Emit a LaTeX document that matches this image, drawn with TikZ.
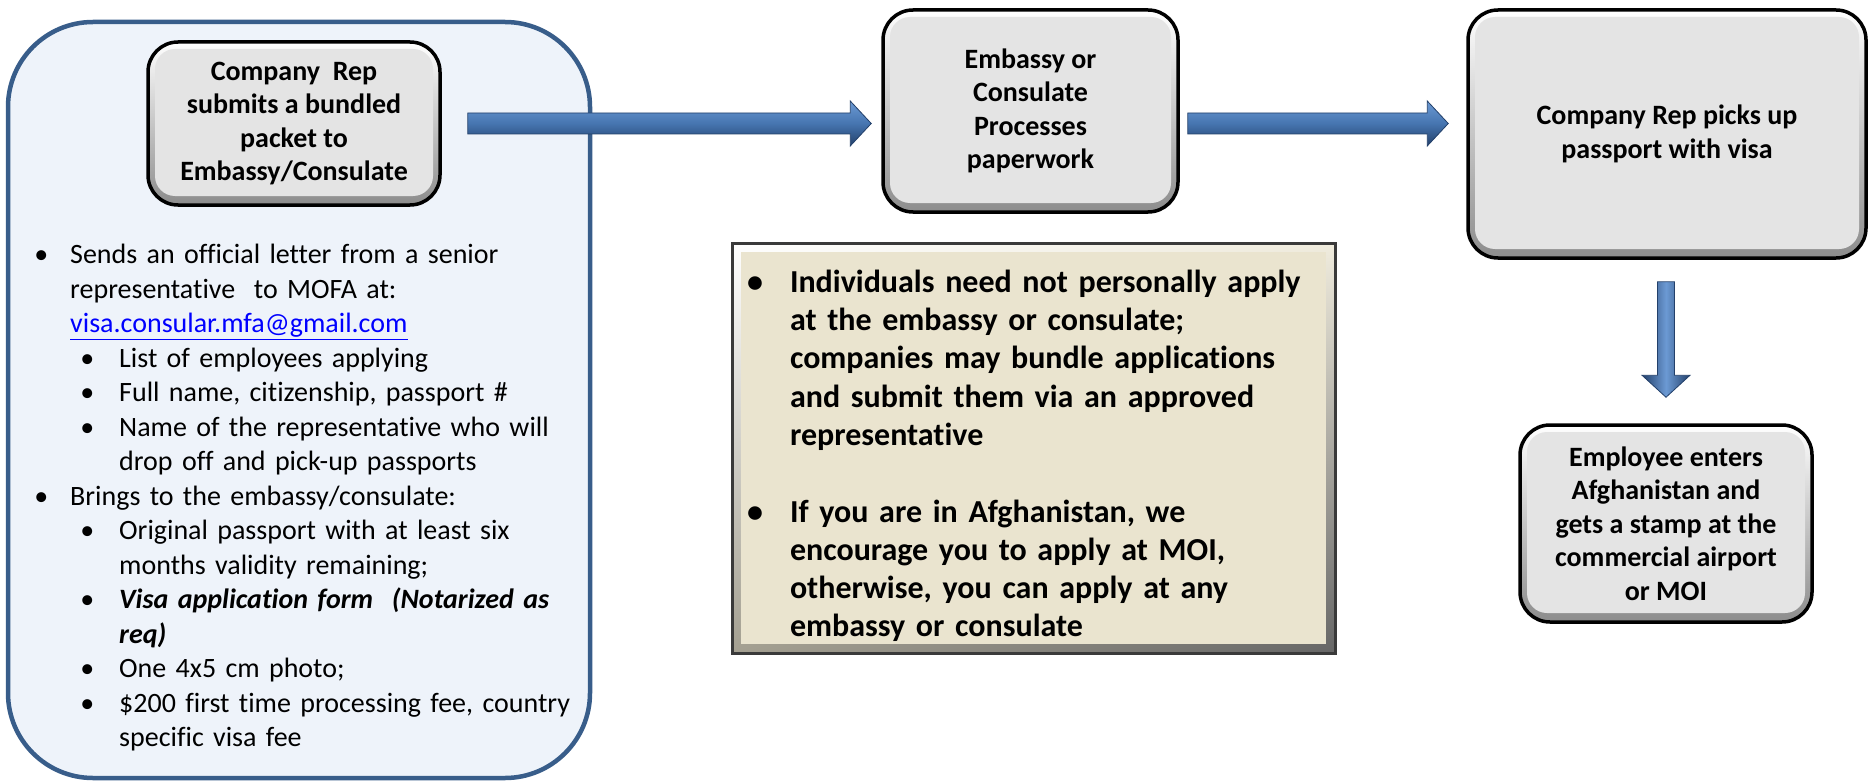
\documentclass[tikz,border=0pt]{standalone}
\usepackage{fontspec}
\setmainfont{Carlito}[Ligatures=CommonOff]
\usepackage{enumitem}
\usetikzlibrary{calc,shadings}

\definecolor{packetblue}{HTML}{385D8A}
\definecolor{packetfill}{HTML}{EEF3FA}
\definecolor{boxgray}{HTML}{E4E4E4}
\definecolor{notefill}{HTML}{EAE4CF}
\definecolor{notedraw}{HTML}{3A3A3A}
\definecolor{arrowmid}{HTML}{4675B0}
\definecolor{arrowlight}{HTML}{6C9AD4}
\definecolor{arrowdark}{HTML}{23406A}
\definecolor{linkblue}{HTML}{0000FF}

\setlist[itemize]{label=\textbullet, leftmargin=50pt, labelsep=25pt, itemsep=0pt, parsep=0pt, topsep=0pt, partopsep=0pt}

\tikzset{
    procbox/.style={draw=black, line width=3.5pt, rounded corners=30pt, fill=boxgray, align=center, inner sep=0pt,
        font=\bfseries\fontsize{28}{33.5}\selectfont,
        path picture={
            \shade[top color=white, bottom color=black!45] (path picture bounding box.north west) rectangle (path picture bounding box.south east);
            \fill[boxgray, rounded corners=20pt] ([shift={(7pt,-7pt)}]path picture bounding box.north west) rectangle ([shift={(-7pt,9pt)}]path picture bounding box.south east);
        }},
    notebox/.style={draw=notedraw, line width=3pt, fill=notefill, align=left, inner ysep=0pt, inner xsep=16pt,
        font=\bfseries\fontsize{32}{38.3}\selectfont,
        path picture={
            \shade[upper left=white, upper right=notefill!70!white, lower left=notefill!70!black, lower right=black!60] (path picture bounding box.north west) rectangle (path picture bounding box.south east);
            \fill[notefill] ([shift={(9pt,-9pt)}]path picture bounding box.north west) rectangle ([shift={(-9pt,9pt)}]path picture bounding box.south east);
        }},
    packetbox/.style={draw=packetblue, line width=4.5pt, rounded corners=85pt, fill=packetfill, inner sep=0pt},
    harrow/.style={top color=arrowlight, bottom color=arrowdark, middle color=arrowmid, draw=arrowdark, line width=0.8pt},
    varrow/.style={left color=arrowdark, right color=arrowdark, middle color=arrowlight, draw=arrowdark, line width=0.8pt}
}

\begin{document}
\begin{tikzpicture}[x=1pt, y=-1pt]
        \useasboundingbox (0,0) rectangle (1868,781);

        % left panel
        \node[packetbox, minimum width=582pt, minimum height=756pt] (packet) at (299,400) {};
        \node[procbox, minimum width=292pt, minimum height=163pt] (rep) at (294,123.5)
            {Company\ \ Rep\\submits a bundled\\packet to\\Embassy/Consulate};

        \node[anchor=north west, text width=580pt, align=left, inner sep=0pt, font=\fontsize{28}{34.5}\selectfont] (reqs) at (20,229) {%
            \begin{itemize}[labelsep=22pt]
                \item Sends an official letter from a senior\\representative\ \ to MOFA at:\\\textcolor{linkblue}{\underline{visa.consular.mfa@gmail.com}}
                \begin{itemize}[leftmargin=49pt]
                    \item List of employees applying
                    \item Full name, citizenship, passport \#
                    \item Name of the representative who will\\drop off and pick-up passports
                \end{itemize}
                \item Brings to the embassy/consulate:
                \begin{itemize}[leftmargin=49pt]
                    \item Original passport with at least six\\months validity remaining;
                    \item \textbf{\textit{Visa application form\ \ (Notarized as\\req)}}
                    \item One 4x5 cm photo;
                    \item \$200 first time processing fee, country\\specific visa fee
                \end{itemize}
            \end{itemize}};

        % process steps
        \node[procbox, minimum width=295pt, minimum height=202pt] (emb) at (1030.5,111)
            {Embassy or\\Consulate\\Processes\\paperwork};
        \node[procbox, minimum width=398pt, minimum height=248pt] (pick) at (1667,134)
            {Company Rep picks up\\passport with visa};
        \node[procbox, minimum width=292pt, minimum height=197pt] (emp) at (1666,523.5)
            {Employee enters\\Afghanistan and\\gets a stamp at the\\commercial airport\\or MOI};

        % note
        \node[notebox, minimum width=603pt, minimum height=410pt, text width=571pt] (note) at (1033.5,448) {%
            \begin{itemize}[leftmargin=42pt, labelsep=27pt, itemsep=38.3pt]
                \item Individuals need not personally apply\\at the embassy or consulate;\\companies may bundle applications\\and submit them via an approved\\representative
                \item If you are in Afghanistan, we\\encourage you to apply at MOI,\\otherwise, you can apply at any\\embassy or consulate
            \end{itemize}\par\vspace{10pt}};

        % arrows
        \coordinate (a1s) at ($(rep.east)+(26,0)$);
        \coordinate (a1e) at ($(emb.west |- rep.east)+(-10,0)$);
        \coordinate (a2s) at ($(emb.east |- rep.east)+(8,0)$);
        \coordinate (a2e) at ($(pick.west |- rep.east)+(-18,0)$);
        \coordinate (a3s) at ($(emp.north |- pick.south)+(0,22)$);
        \coordinate (a3e) at ($(emp.north)+(0,-26)$);

        \shade[harrow] ($(a1s)+(0,-10.5)$) -- ($(a1e)+(-21,-10.5)$) -- ($(a1e)+(-21,-22.5)$) -- (a1e)
            -- ($(a1e)+(-21,22.5)$) -- ($(a1e)+(-21,10.5)$) -- ($(a1s)+(0,10.5)$) -- cycle;
        \shade[harrow] ($(a2s)+(0,-10.5)$) -- ($(a2e)+(-21,-10.5)$) -- ($(a2e)+(-21,-22.5)$) -- (a2e)
            -- ($(a2e)+(-21,22.5)$) -- ($(a2e)+(-21,10.5)$) -- ($(a2s)+(0,10.5)$) -- cycle;
        \shade[varrow] ($(a3s)+(-8.5,0)$) -- ($(a3e)+(-8.5,-22)$) -- ($(a3e)+(-24,-22)$) -- (a3e)
            -- ($(a3e)+(24,-22)$) -- ($(a3e)+(8.5,-22)$) -- ($(a3s)+(8.5,0)$) -- cycle;
\end{tikzpicture}
\end{document}
